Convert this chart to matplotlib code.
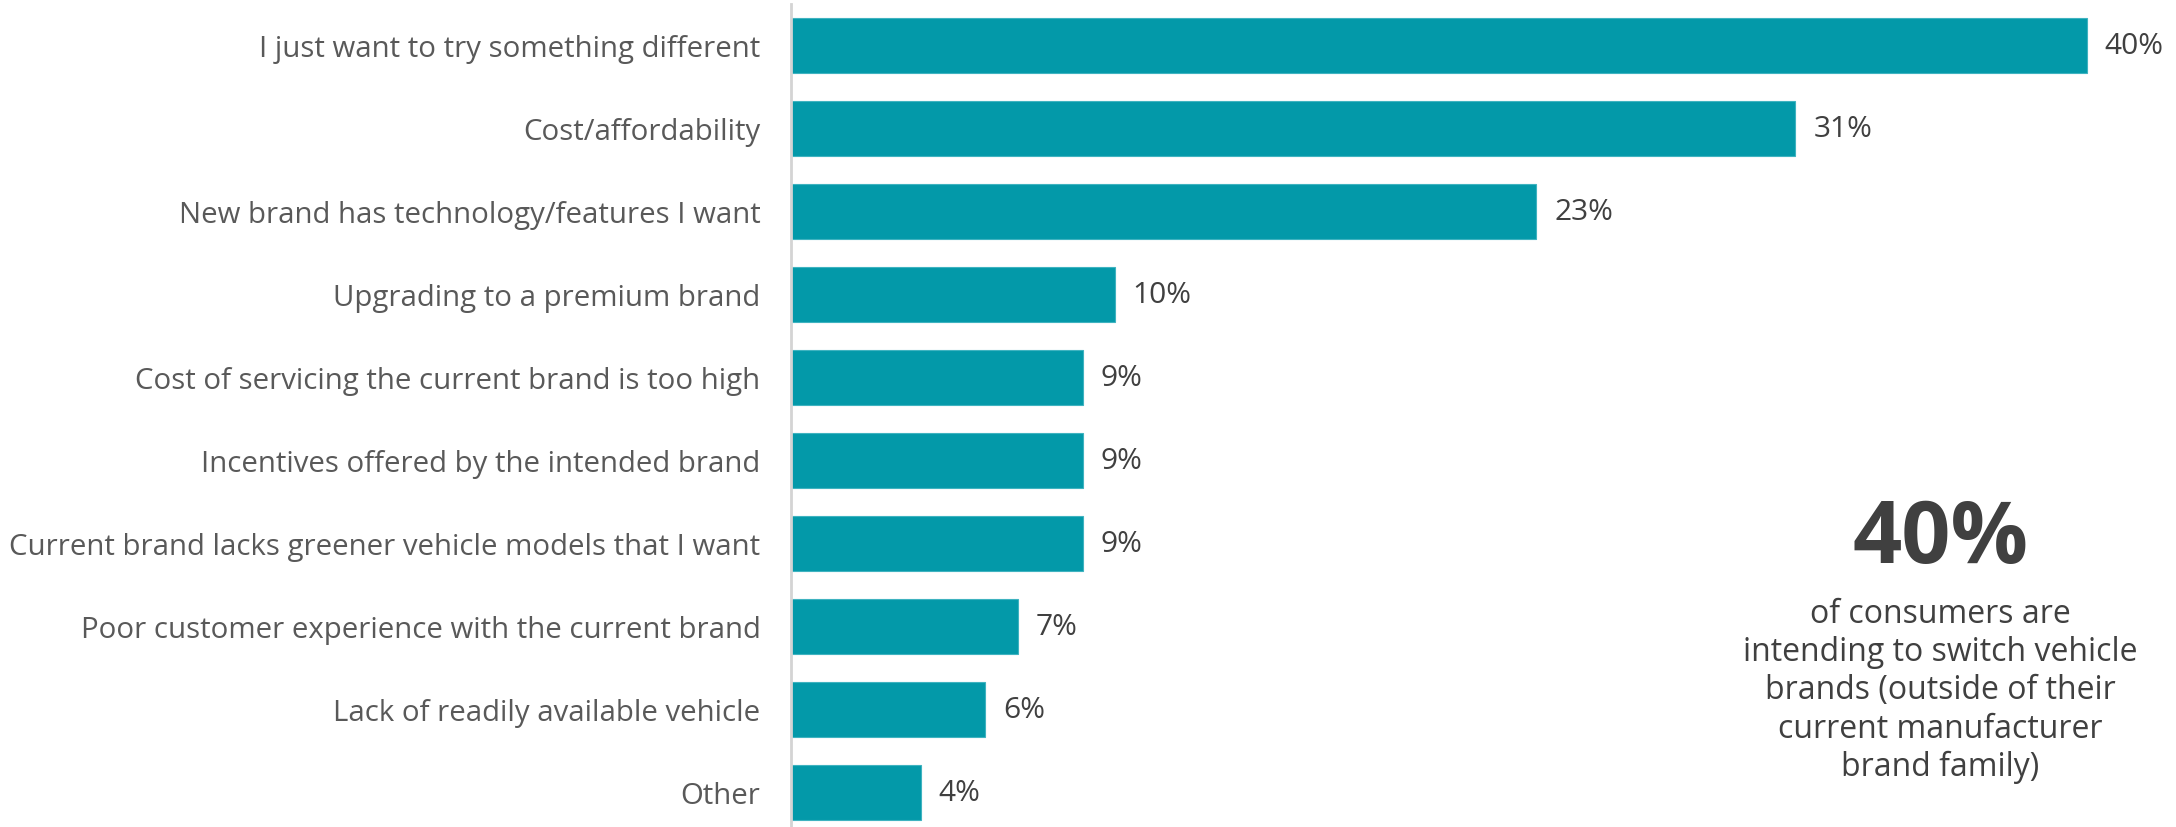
import matplotlib
matplotlib.use("Agg")
import matplotlib.pyplot as plt

plt.rcParams["font.family"] = ["Open Sans", "DejaVu Sans"]

# reasons for switching brands, top to bottom
reasons = [
    "I just want to try something different",
    "Cost/affordability",
    "New brand has technology/features I want",
    "Upgrading to a premium brand",
    "Cost of servicing the current brand is too high",
    "Incentives offered by the intended brand",
    "Current brand lacks greener vehicle models that I want",
    "Poor customer experience with the current brand",
    "Lack of readily available vehicle",
    "Other",
]
shares = [40, 31, 23, 10, 9, 9, 9, 7, 6, 4]

headline = "40%"
headline_note = ("of consumers are\nintending to switch vehicle\nbrands (outside of their\n"
                 "current manufacturer\nbrand family)")

bar_color = "#0399a9"
label_color = "#595959"
value_color = "#404040"

fig = plt.figure(figsize=(21.76, 8.28), dpi=100)
ax = fig.add_axes([791 / 2176, 0, 1 - 791 / 2176, 1 - 5 / 828])

y = list(range(len(reasons)))
ax.barh(y, shares, height=0.66, color=bar_color, edgecolor="#3fb3c0", linewidth=0.8)

for yi, v in zip(y, shares):
    ax.text(v + 0.55, yi, f"{v}%", va="center", ha="left",
            fontsize=21.5, color=value_color, clip_on=False)

ax.set_yticks(y)
ax.set_yticklabels(reasons, fontsize=21.2, color=label_color)
ax.tick_params(axis="y", length=0, pad=22)
ax.set_xticks([])
ax.set_xlim(0, (2176 - 791) / 32.4)
ax.set_ylim(9.42, -0.5)

for side in ["top", "right", "bottom"]:
    ax.spines[side].set_visible(False)
ax.spines["left"].set_color("#d4d4d4")
ax.spines["left"].set_linewidth(2)

# callout on the right
fig.text(1940 / 2176, 1 - 540 / 828, headline, ha="center", va="center",
         fontsize=62, fontweight="bold", color=value_color)
fig.text(1940 / 2176, 1 - 598 / 828, headline_note, ha="center", va="top",
         fontsize=23, color=value_color, linespacing=1.21)

fig.savefig("out.png", dpi=100, facecolor="white")
